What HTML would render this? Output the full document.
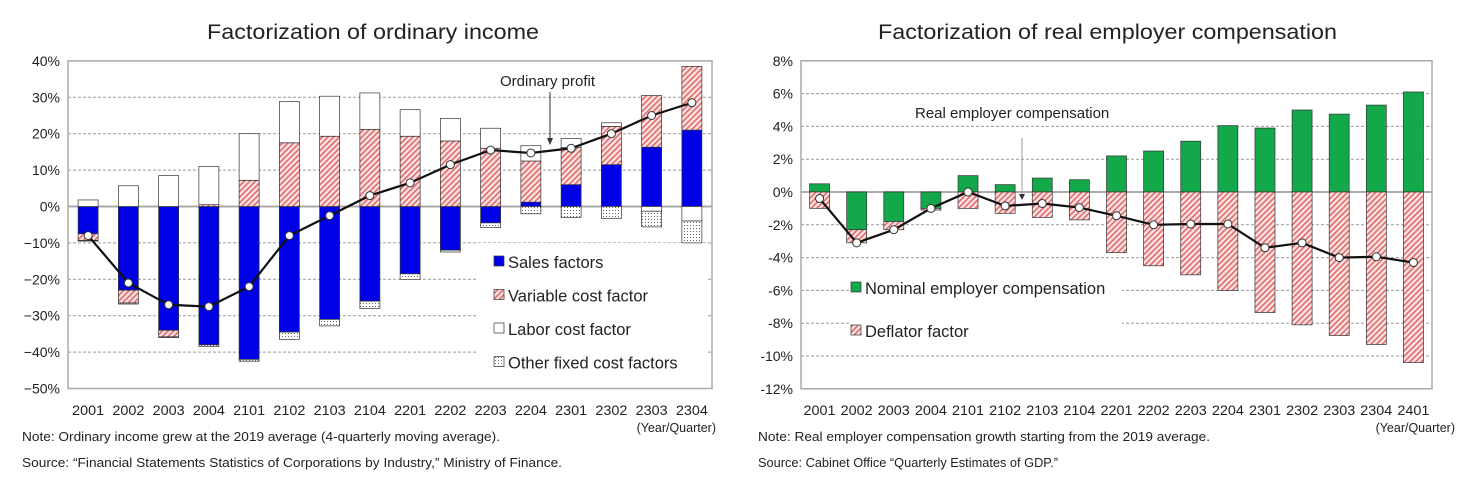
<!DOCTYPE html>
<html><head><meta charset="utf-8"><style>
body{margin:0;background:#fff;font-family:"Liberation Sans",Arial,sans-serif}
svg{display:block}
text{font-family:"Liberation Sans",Arial,sans-serif;fill:#222}
</style></head><body>
<svg id="c" width="1475" height="495">
<defs>
<pattern id="hatch" width="4" height="4" patternUnits="userSpaceOnUse" patternTransform="rotate(45)">
<rect width="4" height="4" fill="#fbe3e3"/><rect width="1.6" height="4" fill="#e06a6a"/></pattern>
<pattern id="dots" width="3" height="3" patternUnits="userSpaceOnUse">
<rect width="3" height="3" fill="#fff"/><rect width="1" height="1" fill="#666"/></pattern>
</defs>
<text x="207" y="39" font-size="21" textLength="332" lengthAdjust="spacingAndGlyphs" fill="#444">Factorization of ordinary income</text>
<text x="878" y="39" font-size="21" textLength="459" lengthAdjust="spacingAndGlyphs" fill="#444">Factorization of real employer compensation</text>
<text x="22" y="441" font-size="12.5" textLength="478" lengthAdjust="spacingAndGlyphs">Note: Ordinary income grew at the 2019 average (4-quarterly moving average).</text>
<text x="22" y="467" font-size="12.5" textLength="540" lengthAdjust="spacingAndGlyphs">Source: “Financial Statements Statistics of Corporations by Industry,” Ministry of Finance.</text>
<text x="716" y="432" font-size="12.5" text-anchor="end">(Year/Quarter)</text>
<text x="758" y="441" font-size="12.5" textLength="452" lengthAdjust="spacingAndGlyphs">Note: Real employer compensation growth starting from the 2019 average.</text>
<text x="758" y="467" font-size="12.5" textLength="300" lengthAdjust="spacingAndGlyphs">Source: Cabinet Office “Quarterly Estimates of GDP.”</text>
<text x="1455" y="432" font-size="12.5" text-anchor="end">(Year/Quarter)</text>
<g id="L"></g><g id="R"></g>
</svg>
<script>
const catsL=["2001","2002","2003","2004","2101","2102","2103","2104","2201","2202","2203","2204","2301","2302","2303","2304"];
const sales=[-7.5,-23,-34,-38,-42,-34.5,-31,-26,-18.5,-12,-4.5,1.2,6,11.5,16.3,21];
const variable=[-1.8,-3.5,-1.8,0.5,7.2,17.5,19.3,21.2,19.3,18,16,11.3,10.2,10.5,14.2,17.5];
const labor=[1.8,5.7,8.5,10.5,12.8,11.3,11,10,7.3,6.2,5.5,4.2,2.5,1,-1.3,-4];
const other=[-0.2,-0.3,-0.2,-0.5,-0.5,-2,-1.8,-2,-1.5,-0.5,-1.3,-2,-3,-3.3,-4.3,-6];
const profit=[-8,-21,-27,-27.5,-22,-8,-2.5,3,6.5,11.5,15.5,14.7,16,20,25,28.5];
const ticksL=["40%","30%","20%","10%","0%","−10%","−20%","−30%","−40%","−50%"];
const tickValsL=[40,30,20,10,0,-10,-20,-30,-40,-50];

const catsR=["2001","2002","2003","2004","2101","2102","2103","2104","2201","2202","2203","2204","2301","2302","2303","2304","2401"];
const nominal=[0.5,-2.3,-1.8,-1.0,1.0,0.45,0.85,0.75,2.2,2.5,3.1,4.05,3.9,5.0,4.75,5.3,6.1];
const deflator=[-1.0,-0.8,-0.5,-0.1,-1.0,-1.3,-1.55,-1.7,-3.7,-4.5,-5.05,-6.0,-7.35,-8.1,-8.75,-9.3,-10.4];
const realComp=[-0.4,-3.1,-2.3,-1.0,0,-0.85,-0.7,-0.95,-1.45,-2.0,-1.95,-1.95,-3.4,-3.1,-4.0,-3.95,-4.3];
const ticksR=["8%","6%","4%","2%","0%","-2%","-4%","-6%","-8%","-10%","-12%"];
const tickValsR=[8,6,4,2,0,-2,-4,-6,-8,-10,-12];

const NS="http://www.w3.org/2000/svg";
function mk(p,tag,a){const e=document.createElementNS(NS,tag);for(const k in a)e.setAttribute(k,a[k]);p.appendChild(e);return e;}

function axes(g,o,cats,tv,tl,yv){
  const x=i=>o.x0+o.bw*(i+0.5);
  tv.forEach((v,i)=>{
    if(v!==0&&i>0){const l=mk(g,'line',{x1:o.x0,x2:o.x1,y1:yv(v),y2:yv(v),stroke:'#999','stroke-dasharray':'3,2','stroke-width':1});
    
    }
    const t=mk(g,'text',{x:o.x0-8,y:yv(v)+5,'font-size':14,'text-anchor':'end'});t.textContent=tl[i];
    
    
  });
  cats.forEach((c,i)=>{const t=mk(g,'text',{x:x(i),y:415,'font-size':14,'text-anchor':'middle',textLength:32,lengthAdjust:'spacingAndGlyphs'});t.textContent=c;
    
    });
  const f=mk(g,'rect',{x:o.x0,y:yv(tv[0]),width:o.x1-o.x0,height:yv(tv[tv.length-1])-yv(tv[0]),fill:'none',stroke:'#aaa','stroke-width':1.5});
  
  
  return x;
}
function bar(g,cx,w,y1,y2,fill,name){
  const r=mk(g,'rect',{x:cx-w/2,y:Math.min(y1,y2),width:w,height:Math.max(0.5,Math.abs(y2-y1)),fill:fill,stroke:'#333','stroke-width':0.7});
  
  
}
function line(g,xs,ys,vals,name){
  const pts=vals.map((v,i)=>xs(i)+','+ys(v)).join(' ');
  const p=mk(g,'polyline',{points:pts,fill:'none',stroke:'#111','stroke-width':2.2});
  
  
  vals.forEach((v,i)=>{const c=mk(g,'circle',{cx:xs(i),cy:ys(v),r:4,fill:'#fff',stroke:'#333','stroke-width':1});
    
    });
}

(function(){
  const g=document.getElementById('L');
  const o={x0:68,x1:712,bw:(712-68)/16};
  const yv=v=>206.5-(v)*3.64;
  const x=axes(g,o,catsL,tickValsL,ticksL,yv);
  const lb=mk(g,'rect',{x:478,y:243,width:230,height:140,fill:'#fff'});
  
  
  const z=mk(g,'line',{x1:o.x0,x2:o.x1,y1:yv(0),y2:yv(0),stroke:'#aaa','stroke-width':2});
  
  
  const fills=['#0000e6','url(#hatch)','#fff','url(#dots)'];
  const names=['bar-sales','bar-variable-cost','bar-labor-cost','bar-other-fixed'];
  catsL.forEach((c,i)=>{
    let pos=0,neg=0;
    [sales[i],variable[i],labor[i],other[i]].forEach((v,k)=>{
      if(v>=0){bar(g,x(i),20,yv(pos),yv(pos+v),fills[k],names[k]);pos+=v;}
      else{bar(g,x(i),20,yv(neg),yv(neg+v),fills[k],names[k]);neg+=v;}
    });
  });
  line(g,x,yv,profit,'ordinary-profit-line');
  const lbl=['Sales factors','Variable cost factor','Labor cost factor','Other fixed cost factors'];
  lbl.forEach((t,k)=>{
    const r=mk(g,'rect',{x:494,y:256+k*33.5,width:10,height:10,fill:fills[k],stroke:'#333','stroke-width':0.7});
    
    
    const tx=mk(g,'text',{x:508,y:268+k*33.5,'font-size':16.5});tx.textContent=t;
    
    
  });
  const a=mk(g,'text',{x:500,y:86,'font-size':15});a.textContent='Ordinary profit';
  
  
  const al=mk(g,'line',{x1:550,y1:92,x2:550,y2:140,stroke:'#333','stroke-width':1});
  
  
  const ah=mk(g,'path',{d:'M547,138 L553,138 L550,145 Z',fill:'#333'});
  
  
})();

(function(){
  const g=document.getElementById('R');
  const o={x0:801,x1:1432,bw:(1432-801)/17};
  const yv=v=>192-(v)*16.4;
  const x=axes(g,o,catsR,tickValsR,ticksR,yv);
  const lb=mk(g,'rect',{x:850,y:272,width:272,height:76,fill:'#fff'});
  
  
  const z=mk(g,'line',{x1:o.x0,x2:o.x1,y1:yv(0),y2:yv(0),stroke:'#aaa','stroke-width':2});
  
  
  catsR.forEach((c,i)=>{
    let pos=0,neg=0;
    [[nominal[i],'#13a84a','bar-nominal-compensation'],[deflator[i],'url(#hatch)','bar-deflator']].forEach(([v,f,n])=>{
      if(v>=0){bar(g,x(i),20,yv(pos),yv(pos+v),f,n);pos+=v;}
      else{bar(g,x(i),20,yv(neg),yv(neg+v),f,n);neg+=v;}
    });
  });
  line(g,x,yv,realComp,'real-compensation-line');
  [['Nominal employer compensation','#13a84a'],['Deflator factor','url(#hatch)']].forEach(([t,f],k)=>{
    const r=mk(g,'rect',{x:851,y:282+k*43,width:10,height:10,fill:f,stroke:'#333','stroke-width':0.7});
    
    
    const tx=mk(g,'text',{x:865,y:294+k*43,'font-size':16.5});tx.textContent=t;
    
    
  });
  const a=mk(g,'text',{x:915,y:118,'font-size':15});a.textContent='Real employer compensation';
  
  
  const al=mk(g,'line',{x1:1022,y1:138,x2:1022,y2:196,stroke:'#999','stroke-width':1});
  
  
  const ah=mk(g,'path',{d:'M1019,194 L1025,194 L1022,200 Z',fill:'#333'});
  
  
})();
</script>
</body></html>
